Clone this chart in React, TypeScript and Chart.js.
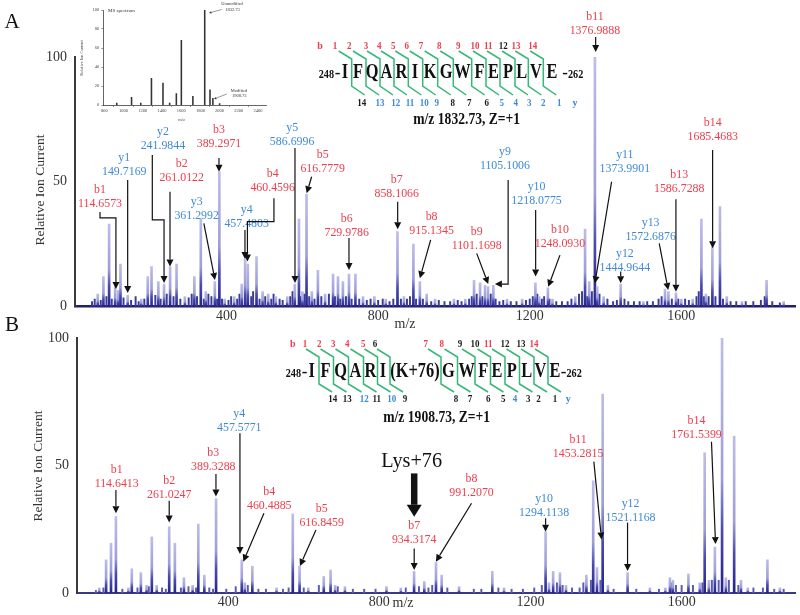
import React, { useEffect, useRef } from "react";
import { Chart, registerables } from "chart.js";

Chart.register(...registerables);

const SERIF = "'Liberation Serif', 'Times New Roman', serif";
Chart.defaults.font.family = SERIF;

// ---------------- data ----------------
const mzTicks = [400, 800, 1200, 1600];
const intensityTicks = [0, 50, 100];

// Panel A: MS/MS of m/z 1832.73 (unmodified) [m/z, relative intensity]
const peaksA: [number, number][] = [
  [60, 5], [75, 12], [90, 33], [106, 8], [114, 6.5], [120, 17], [139, 4.5], [175, 3], [192, 12], [202, 16],
  [220, 10], [235, 9], [251, 16], [268, 17], [290, 4], [315, 12], [332, 35], [345, 6], [369, 10], [381, 54],
  [395, 3], [420, 4], [440, 9], [449, 19], [456, 17], [479, 20], [495, 6], [510, 5], [530, 4], [560, 4],
  [580, 9], [591, 35], [600, 6], [611, 45], [625, 6], [641, 14.5], [660, 5], [681, 13], [694, 12], [707, 10],
  [723, 13], [740, 13], [760, 4], [790, 4], [820, 3], [851, 30], [868, 4], [893, 25], [910, 10], [928, 5],
  [950, 3], [1000, 3], [1030, 3], [1053, 10.5], [1069, 9.5], [1082, 8.5], [1090, 8], [1104, 8.5], [1140, 3],
  [1180, 3], [1215, 9.5], [1225, 4], [1248, 7.5], [1260, 3], [1320, 4], [1346, 31], [1357, 10], [1372, 100],
  [1378, 8], [1395, 4], [1440, 9], [1500, 2], [1557, 7], [1566, 6], [1586, 5.5], [1600, 3], [1630, 3],
  [1653, 35], [1665, 5], [1682, 24], [1702, 40], [1720, 4], [1760, 2], [1825, 10.5], [1870, 2],
];
const baselineA: [number, number][] = [
  [45, 2], [52, 3], [68, 2.5], [83, 4], [97, 3], [128, 3.5], [148, 2.5], [160, 4], [168, 2], [183, 3],
  [212, 4.5], [226, 3], [242, 5], [260, 4], [278, 3], [300, 3.5], [308, 5], [322, 4], [340, 3], [352, 5],
  [360, 4], [375, 3], [388, 3], [405, 2.5], [412, 4], [428, 3], [434, 5], [465, 4], [470, 6], [487, 3],
  [502, 4], [518, 3], [524, 5], [540, 3], [548, 2.5], [568, 4], [574, 6], [596, 4], [605, 5], [618, 4],
  [632, 3], [650, 4], [670, 5], [686, 4], [700, 3], [715, 4], [730, 3], [750, 3], [770, 2.5], [780, 3],
  [800, 2.5], [812, 3], [830, 2], [840, 3], [860, 3], [876, 3], [884, 4], [900, 3], [918, 3], [940, 2],
  [960, 2.5], [975, 2], [990, 2], [1010, 2.5], [1020, 2], [1040, 3], [1047, 4], [1060, 5], [1075, 4],
  [1097, 5], [1110, 3], [1120, 2], [1130, 2.5], [1150, 2], [1165, 2], [1190, 2.5], [1200, 3], [1208, 4],
  [1220, 5], [1232, 3], [1238, 4], [1252, 3], [1270, 2], [1285, 2], [1300, 2], [1310, 3], [1330, 5],
  [1338, 6], [1352, 4], [1364, 6], [1384, 5], [1405, 3], [1420, 2], [1430, 2.5], [1450, 3], [1460, 2],
  [1475, 2], [1490, 2], [1510, 2], [1525, 2], [1540, 3], [1548, 4], [1575, 3], [1592, 3], [1610, 3],
  [1620, 2.5], [1640, 4], [1646, 6], [1660, 4], [1672, 4], [1690, 4], [1710, 3], [1730, 2], [1745, 2],
  [1770, 2], [1790, 2], [1810, 2.5], [1820, 4], [1840, 2], [1860, 1.5],
];

// Panel B: MS/MS of m/z 1908.73 (Lys+76 modified)
const peaksB: [number, number][] = [
  [59, 2], [77, 13], [90, 19.5], [103, 30], [136, 2], [145, 9.5], [169, 8], [184, 3], [198, 22], [211, 3],
  [244, 26], [259, 19.5], [283, 6], [306, 3], [321, 27], [337, 7], [368, 37], [436, 13], [444, 4], [464, 10.5],
  [528, 2], [571, 31], [589, 10.5], [612, 2], [653, 6.5], [671, 9], [683, 3], [709, 2.5], [819, 2.5], [857, 2],
  [892, 8.5], [919, 4.5], [950, 12], [965, 7], [1011, 2.5], [1099, 8.5], [1130, 2], [1240, 24], [1249, 4],
  [1260, 8.5], [1278, 8], [1294, 3], [1348, 7], [1366, 44], [1376, 10], [1391, 78], [1405, 3], [1457, 8],
  [1516, 2], [1557, 2], [1569, 6], [1577, 5], [1618, 7.5], [1648, 4], [1661, 55], [1672, 5], [1688, 18],
  [1707, 100], [1717, 6], [1739, 61.5], [1757, 5], [1775, 2], [1827, 13], [1860, 2],
];
const baselineB: [number, number][] = [
  [50, 1], [70, 2], [120, 1.5], [160, 2], [190, 2.5], [225, 2], [235, 1.5], [275, 2], [295, 2.5], [315, 2],
  [350, 2], [360, 1.5], [395, 1.5], [420, 2.5], [452, 3], [480, 1.5], [500, 1.5], [545, 1.5], [560, 2],
  [600, 2], [640, 3], [690, 2.5], [730, 1.5], [760, 1.5], [790, 1.5], [870, 2], [905, 2.5], [930, 2],
  [940, 3], [980, 2], [1050, 1.5], [1070, 1.5], [1115, 2], [1150, 1.5], [1180, 1.5], [1210, 2], [1230, 3],
  [1270, 4], [1285, 3], [1310, 2], [1330, 2], [1340, 4], [1360, 5], [1385, 5], [1420, 1.5], [1480, 1.5],
  [1540, 1.5], [1575, 4], [1585, 3], [1600, 3], [1630, 3], [1655, 4], [1680, 5], [1698, 5], [1725, 5],
  [1750, 3], [1790, 2], [1815, 2], [1845, 1.5], [1870, 1.5],
];

// Inset: full MS spectrum
const insetMz = [930, 1084, 1180, 1291, 1411, 1480, 1550, 1602, 1722, 1845, 1900, 1930, 2000];
const insetIntensity = [2, 8, 2, 28, 23, 2, 12, 68, 9, 100, 16, 7, 1.5];
const insetMzTicks = [800, 1000, 1200, 1400, 1600, 1800, 2000, 2200, 2400];
const insetIntTicks = [0, 20, 40, 60, 80, 100];

// Fragment-ion labels: text, label anchor and arrow path in data units (m/z, %)
type Frag = { ion: string; mz: string; at: [number, number]; path: [number, number][] };
const fragmentsA: Frag[] = [
  { ion: "b1", mz: "114.6573", at: [66, 46.7], path: [[66, 37.9], [66, 35.5], [108, 35.5], [108, 7]] },
  { ion: "y1", mz: "149.7169", at: [130, 59.5], path: [[139, 50.7], [139, 5.4]] },
  { ion: "y2", mz: "241.9844", at: [232, 69.9], path: [[204, 60.7], [204, 34.7], [235, 34.7], [235, 9.4]] },
  { ion: "b3", mz: "389.2971", at: [380, 70.7], path: [[380, 59.5], [380, 54]] },
  { ion: "b2", mz: "261.0122", at: [281.5, 57.4], path: [[250.7, 46], [250.7, 16]] },
  { ion: "y3", mz: "361.2992", at: [321, 42], path: [[340, 33.3], [369.4, 10.6]] },
  { ion: "y4", mz: "457.4803", at: [453, 38.7], path: [[448.5, 30.7], [448.5, 19]] },
  { ion: "b4", mz: "460.4596", at: [521.6, 53.4], path: [[525, 43.4], [525, 34], [455, 34], [455, 18]] },
  { ion: "y5", mz: "586.6996", at: [573, 71.5], path: [[580.5, 63.5], [580.5, 9.4]] },
  { ion: "b5", mz: "616.7779", at: [653.6, 60.7], path: [[624.5, 52], [611.3, 45.4]] },
  { ion: "b6", mz: "729.9786", at: [717, 35], path: [[723, 27.5], [723, 14.6]] },
  { ion: "b7", mz: "858.1066", at: [849, 50.7], path: [[851.5, 42], [851.5, 31]] },
  { ion: "b8", mz: "915.1345", at: [941, 35.8], path: [[938.5, 26.7], [910, 11.3]] },
  { ion: "b9", mz: "1101.1698", at: [1060, 30], path: [[1060, 21.3], [1090.5, 9]] },
  { ion: "y9", mz: "1105.1006", at: [1134.6, 62], path: [[1143, 50.7], [1143, 9], [1108, 9]] },
  { ion: "y10", mz: "1218.0775", at: [1218, 48], path: [[1215.6, 38.7], [1215.6, 12]] },
  { ion: "b10", mz: "1248.0930", at: [1279.7, 30.7], path: [[1279.7, 20.6], [1248.8, 7.9]] },
  { ion: "b11", mz: "1376.9888", at: [1372, 116], path: [[1374, 108], [1374, 102]] },
  { ion: "y11", mz: "1373.9901", at: [1451, 60.7], path: [[1416, 50], [1372, 9.3]] },
  { ion: "y12", mz: "1444.9644", at: [1451, 21.3], path: [[1440, 14], [1440, 9.3]] },
  { ion: "y13", mz: "1572.6876", at: [1519, 33.6], path: [[1541.7, 25.3], [1565.4, 6.6]] },
  { ion: "b13", mz: "1586.7288", at: [1594.5, 52.7], path: [[1585.8, 43], [1585.8, 5.9]] },
  { ion: "b14", mz: "1685.4683", at: [1683, 73.7], path: [[1682.6, 62.7], [1682.6, 23.3]] },
];
const fragmentsB: Frag[] = [
  { ion: "b1", mz: "114.6413", at: [105, 48.5], path: [[103, 40.4], [103, 31.3]] },
  { ion: "b2", mz: "261.0247", at: [244, 44], path: [[244, 36.2], [244, 27.6]] },
  { ion: "b3", mz: "389.3288", at: [360.6, 55], path: [[367.7, 46.7], [367.7, 37.8]] },
  { ion: "y4", mz: "457.5771", at: [429.4, 70.5], path: [[431.2, 62.6], [431.2, 15.3]] },
  { ion: "b4", mz: "460.4885", at: [508.7, 39.7], path: [[494.7, 31.3], [440, 12.3]] },
  { ion: "b5", mz: "616.8459", at: [647.4, 33.2], path: [[632.3, 24.7], [590, 10.6]] },
  { ion: "b7", mz: "934.3174", at: [892.3, 26.3], path: [[892.3, 17.5], [892.3, 9]] },
  { ion: "b8", mz: "991.2070", at: [1044, 44.7], path: [[1044, 35.2], [949.7, 12.3]] },
  { ion: "y10", mz: "1294.1138", at: [1236, 37.1], path: [[1240, 29.3], [1240, 24]] },
  { ion: "b11", mz: "1453.2815", at: [1326, 60], path: [[1367.7, 51.5], [1388, 21]] },
  { ion: "y12", mz: "1521.1168", at: [1464.8, 35.2], path: [[1456.9, 27.6], [1456.9, 8.6]] },
  { ion: "b14", mz: "1761.5399", at: [1639.4, 67.6], path: [[1679, 59.3], [1689.7, 19.2]] },
];

// ---------------- styles / layout ----------------
const RED = "#ee3d4c";
const BLUE = "#3f8ad6";
const DARK = "#1a1a1a";
const GREEN = "#36b877";

type SeqLayout = {
  cy: number; bY: number; yY: number; br: [number, number, number, number];
  pre: { numRight: number; dash: number }; suf: { dash: number; numLeft: number };
  residues: string[]; resX: number[];
  bLabelX: number; bX: number[]; bColors: string[];
  yLabelX: number; yX: number[]; yColors: string[];
  cuts: number[]; title: string; titleX: number; titleY: number;
};
const R = RED, B = BLUE, K = DARK;
const seqA: SeqLayout = {
  cy: 73, bY: 46.7, yY: 103.3, br: [51, 59, 86, 95],
  pre: { numRight: 334, dash: 337.5 }, suf: { dash: 565, numLeft: 568 },
  residues: ["I", "F", "Q", "A", "R", "I", "K", "G", "W", "F", "E", "P", "L", "V", "E"],
  resX: [345, 358, 372, 386.5, 401.5, 415, 430, 446, 462.5, 479.5, 493.5, 508, 521.7, 536, 552],
  bLabelX: 320, bX: [335, 349.3, 366, 379.3, 393.3, 406.7, 421, 439.3, 458.3, 475, 488.3, 503.3, 516, 532.7],
  bColors: [R, R, R, R, R, R, R, R, R, R, R, K, R, R],
  yLabelX: 575, yX: [361.7, 380, 395.7, 410, 424.3, 436.7, 452.7, 469.3, 486.7, 501.7, 515.7, 529.3, 543.3, 559.3],
  yColors: [K, B, B, B, B, B, K, K, K, B, B, B, B, B],
  cuts: [351.7, 366, 380, 394, 408.3, 422.7, 437.7, 453.3, 471.7, 486, 500, 515, 528.3, 543.3],
  title: "m/z 1832.73, Z=+1", titleX: 466.7, titleY: 120,
};
const seqB: SeqLayout = {
  cy: 371.7, bY: 344.3, yY: 399.3, br: [349, 357, 384, 392],
  pre: { numRight: 301, dash: 304.5 }, suf: { dash: 563.5, numLeft: 566.5 },
  residues: ["I", "F", "Q", "A", "R", "I", "(K+76)", "G", "W", "F", "E", "P", "L", "V", "E"],
  resX: [311.7, 325.5, 340.5, 355.5, 370.5, 383, 415, 448.3, 466.7, 483.3, 497, 511.7, 526.7, 540.5, 555],
  bLabelX: 292.7, bX: [305, 319.3, 333.3, 347.3, 363.3, 375, 425.7, 441.7, 460, 475, 488.3, 505, 521, 534],
  bColors: [R, R, R, R, R, K, R, R, K, K, R, K, K, R],
  yLabelX: 568.3, yX: [332.7, 347.3, 364.3, 376.7, 391.7, 405, 456, 470, 488.3, 503.3, 515, 528.3, 538.5, 555],
  yColors: [K, K, B, K, B, K, K, K, K, K, B, K, K, K],
  cuts: [319, 333.5, 348.5, 363.5, 377.5, 390, 441, 457.5, 475, 490.5, 505, 519.5, 534, 548],
  title: "m/z 1908.73, Z=+1", titleX: 436.7, titleY: 418.3,
};

// ---------------- drawing helpers ----------------
function txt(ctx: CanvasRenderingContext2D, s: string, x: number, y: number, font: string, color: string,
  align: CanvasTextAlign = "center", sx = 1, rot = 0) {
  ctx.save();
  ctx.font = font; ctx.fillStyle = color; ctx.textAlign = align; ctx.textBaseline = "middle";
  ctx.translate(x, y); if (rot) ctx.rotate(rot); ctx.scale(sx, 1);
  ctx.fillText(s, 0, 0);
  ctx.restore();
}

function arrow(ctx: CanvasRenderingContext2D, pts: [number, number][], lw = 1.2, head = 7, hw = 3.5, color = "#111") {
  const n = pts.length;
  const [tx, ty] = pts[n - 1];
  const [px, py] = pts[n - 2];
  const a = Math.atan2(ty - py, tx - px);
  const bx = tx - head * Math.cos(a), by = ty - head * Math.sin(a);
  ctx.save();
  ctx.strokeStyle = color; ctx.fillStyle = color; ctx.lineWidth = lw; ctx.lineJoin = "miter";
  ctx.beginPath();
  ctx.moveTo(pts[0][0], pts[0][1]);
  for (let i = 1; i < n - 1; i++) ctx.lineTo(pts[i][0], pts[i][1]);
  ctx.lineTo(bx, by);
  ctx.stroke();
  ctx.beginPath();
  ctx.moveTo(tx, ty);
  ctx.lineTo(bx + hw * Math.sin(a), by - hw * Math.cos(a));
  ctx.lineTo(bx - hw * Math.sin(a), by + hw * Math.cos(a));
  ctx.closePath();
  ctx.fill();
  ctx.restore();
}

function drawSequence(ctx: CanvasRenderingContext2D, s: SeqLayout) {
  // brackets first so the residues sit on top
  ctx.save();
  ctx.strokeStyle = GREEN; ctx.lineWidth = 1.5;
  const [t, v0, v1, b] = s.br;
  s.cuts.forEach((x) => {
    ctx.beginPath();
    ctx.moveTo(x - 13, t); ctx.lineTo(x, v0); ctx.lineTo(x, v1); ctx.lineTo(x + 13, b);
    ctx.stroke();
  });
  ctx.restore();
  const main = `bold 21px ${SERIF}`;
  s.residues.forEach((r, i) => txt(ctx, r, s.resX[i], s.cy, main, "#111", "center", 0.78));
  txt(ctx, "248", s.pre.numRight, s.cy + 2, `bold 12px ${SERIF}`, "#111", "right", 0.85);
  txt(ctx, "-", s.pre.dash, s.cy + 1, `bold 17px ${SERIF}`, "#111", "center");
  txt(ctx, "-", s.suf.dash, s.cy + 1, `bold 17px ${SERIF}`, "#111", "center");
  txt(ctx, "262", s.suf.numLeft, s.cy + 2, `bold 12px ${SERIF}`, "#111", "left", 0.85);
  const nf = `bold 10px ${SERIF}`;
  txt(ctx, "b", s.bLabelX, s.bY, nf, RED, "center");
  s.bX.forEach((x, i) => txt(ctx, String(i + 1), x, s.bY, nf, s.bColors[i], "center", 0.9));
  s.yX.forEach((x, i) => txt(ctx, String(14 - i), x, s.yY, nf, s.yColors[i], "center", 0.9));
  txt(ctx, "y", s.yLabelX, s.yY, nf, BLUE, "center");
  txt(ctx, s.title, s.titleX, s.titleY, `bold 16px ${SERIF}`, "#111", "center", 0.85);
}

function drawFragments(chart: any, frags: Frag[]) {
  const ctx: CanvasRenderingContext2D = chart.ctx;
  const xs = chart.scales.x, ys = chart.scales.y;
  const P = (p: [number, number]): [number, number] => [xs.getPixelForValue(p[0]), ys.getPixelForValue(p[1])];
  const f = `12.5px ${SERIF}`;
  frags.forEach((fr) => {
    const col = fr.ion.startsWith("b") ? RED : BLUE;
    const [x, y] = P(fr.at);
    txt(ctx, fr.ion, x, y, f, col, "center", 0.95);
    txt(ctx, fr.mz, x, y + 14, f, col, "center", 0.95);
    arrow(ctx, fr.path.map(P), 1.2, 7, 3.5, "#111");
  });
}

function peakFill(c: any) {
  const chart = c.chart;
  if (!chart.chartArea || c.type !== "data" || !c.parsed) return "#a4a4da";
  const ys = chart.scales.y;
  const top = ys.getPixelForValue(c.parsed.y);
  const base = ys.getPixelForValue(0);
  if (!isFinite(top) || !isFinite(base) || base - top < 2) return "#3a3a98";
  const g = chart.ctx.createLinearGradient(0, base, 0, top);
  g.addColorStop(0, "#22228a");
  g.addColorStop(0.25, "#4a4aae");
  g.addColorStop(0.45, "#9e9ed8");
  g.addColorStop(1, "#bdbde9");
  return g;
}

type MainCfg = {
  peaks: [number, number][]; baseline: [number, number][];
  left: number; top: number; bottom: number; right: number;
  baseColor: string; baseWidth: number; noiseColor: string;
  draw: (chart: any) => void;
};

function makeMain(canvas: HTMLCanvasElement, cfg: MainCfg) {
  const tickFont = { family: SERIF, size: 14 };
  return new Chart(canvas, {
    type: "bar",
    data: {
      datasets: [
        { data: cfg.peaks.map(([x, y]) => ({ x, y })), backgroundColor: peakFill, barThickness: 2, grouped: false, order: 1 } as any,
        { data: cfg.baseline.map(([x, y]) => ({ x, y })), backgroundColor: cfg.noiseColor, barThickness: 1.3, grouped: false, order: 2 } as any,
      ],
    },
    options: {
      responsive: false,
      animation: false,
      events: [],
      layout: { padding: { left: 0, right: 800 - cfg.right, top: cfg.top, bottom: 615 - cfg.bottom - 20 } },
      plugins: { legend: { display: false }, tooltip: { enabled: false } },
      scales: {
        x: {
          type: "linear", min: 0, max: 1900, offset: false,
          grid: { display: false, drawTicks: false },
          border: { display: true, color: cfg.baseColor, width: cfg.baseWidth },
          ticks: { font: tickFont, color: "#333", padding: 1, maxRotation: 0, callback: (v: any) => String(v) },
          afterBuildTicks: (s: any) => { s.ticks = mzTicks.map((v) => ({ value: v })); },
          afterFit: (s: any) => { s.height = 20; },
        },
        y: {
          type: "linear", min: 0, max: 100,
          grid: { display: false, drawTicks: false },
          border: { display: true, color: "#3a3a3a", width: 2 },
          ticks: { font: tickFont, color: "#333", padding: 8, callback: (v: any) => String(v) },
          afterBuildTicks: (s: any) => { s.ticks = intensityTicks.map((v) => ({ value: v })); },
          afterFit: (s: any) => { s.width = cfg.left; },
        },
      },
    } as any,
    plugins: [{ id: "deco", afterDraw: (chart: any) => cfg.draw(chart) }],
  });
}

function makeInset(canvas: HTMLCanvasElement) {
  const f = { family: SERIF, size: 4.5 };
  return new Chart(canvas, {
    type: "bar",
    data: {
      datasets: [{
        data: insetMz.map((x, i) => ({ x, y: insetIntensity[i] })),
        backgroundColor: "#333", barThickness: 0.9, grouped: false,
      } as any],
    },
    options: {
      responsive: false, animation: false, events: [],
      layout: { padding: { left: 0, right: 533.3, top: 10, bottom: 498 } },
      plugins: { legend: { display: false }, tooltip: { enabled: false } },
      scales: {
        x: {
          type: "linear", min: 790, max: 2490, offset: false,
          grid: { drawOnChartArea: false, tickLength: 2, color: "#555", lineWidth: 0.6 },
          border: { display: true, color: "#222", width: 0.7 },
          ticks: { font: f, color: "#444", padding: 1.5, maxRotation: 0, autoSkip: false, callback: (v: any) => String(v) },
          afterBuildTicks: (s: any) => { s.ticks = insetMzTicks.map((v) => ({ value: v })); },
          afterFit: (s: any) => { s.height = 12; },
        },
        y: {
          type: "linear", min: 0, max: 100,
          grid: { drawOnChartArea: false, tickLength: 2, color: "#555", lineWidth: 0.6 },
          border: { display: true, color: "#222", width: 0.7 },
          ticks: { font: f, color: "#444", padding: 2, autoSkip: false, callback: (v: any) => String(v) },
          afterBuildTicks: (s: any) => { s.ticks = insetIntTicks.map((v) => ({ value: v })); },
          afterFit: (s: any) => { s.width = 103.3; },
        },
      },
    } as any,
    plugins: [{
      id: "insetDeco",
      afterDraw: (chart: any) => {
        const ctx: CanvasRenderingContext2D = chart.ctx;
        const sf = `4.5px ${SERIF}`;
        txt(ctx, "MS spectrum", 108, 10.7, `5px ${SERIF}`, "#333", "left");
        txt(ctx, "Unmodified", 232, 4, sf, "#333", "center");
        txt(ctx, "1832.73", 232.5, 9.5, sf, "#333", "center");
        txt(ctx, "Modified", 239, 90.7, sf, "#333", "center");
        txt(ctx, "1908.73", 239.3, 96.2, sf, "#333", "center");
        arrow(ctx, [[221.7, 9.5], [209, 13]], 0.5, 2.5, 1.2, "#333");
        arrow(ctx, [[226.7, 94], [214, 99]], 0.5, 2.5, 1.2, "#333");
        txt(ctx, "m/z", 181.7, 120, sf, "#444", "center");
        txt(ctx, "Relative Ion Current", 82, 58, `4.3px ${SERIF}`, "#444", "center", 1, -Math.PI / 2);
      },
    }],
  });
}

export default function App() {
  const refA = useRef<HTMLCanvasElement>(null);
  const refB = useRef<HTMLCanvasElement>(null);
  const refI = useRef<HTMLCanvasElement>(null);

  useEffect(() => {
    const charts: Chart[] = [];
    charts.push(makeMain(refA.current!, {
      peaks: peaksA, baseline: baselineA, left: 75, top: 57, bottom: 306.5, right: 795,
      baseColor: "#20206e", baseWidth: 2.5, noiseColor: "#3a3a9c",
      draw: (chart) => {
        const ctx = chart.ctx;
        txt(ctx, "A", 12, 22, `21px ${SERIF}`, "#111", "center");
        txt(ctx, "Relative Ion Current", 40, 190, `13.5px ${SERIF}`, "#333", "center", 1, -Math.PI / 2);
        txt(ctx, "m/z", 405, 324, `14px ${SERIF}`, "#333", "center");
        drawSequence(ctx, seqA);
        drawFragments(chart, fragmentsA);
      },
    }));
    charts.push(makeMain(refB.current!, {
      peaks: peaksB, baseline: baselineB, left: 77, top: 338, bottom: 593, right: 795,
      baseColor: "#3a3a80", baseWidth: 2, noiseColor: "#5a5ab0",
      draw: (chart) => {
        const ctx = chart.ctx;
        const xs = chart.scales.x, ys = chart.scales.y;
        txt(ctx, "B", 12, 325, `21px ${SERIF}`, "#111", "center");
        txt(ctx, "Relative Ion Current", 38, 466, `13.5px ${SERIF}`, "#333", "center", 1, -Math.PI / 2);
        txt(ctx, "m/z", 403, 603, `14px ${SERIF}`, "#333", "center");
        drawSequence(ctx, seqB);
        drawFragments(chart, fragmentsB);
        // Lys+76 callout
        const lx = xs.getPixelForValue(885.4), ly = ys.getPixelForValue(51.5);
        txt(ctx, "Lys+76", lx, ly, `22px ${SERIF}`, "#111", "center", 0.92);
        const ax = xs.getPixelForValue(892.3);
        arrow(ctx, [[ax, ys.getPixelForValue(46.9)], [ax, ys.getPixelForValue(29.9)]], 6.5, 12, 7.5, "#111");
      },
    }));
    charts.push(makeInset(refI.current!));
    return () => charts.forEach((c) => c.destroy());
  }, []);

  const cs: React.CSSProperties = { position: "absolute", left: 0, top: 0, width: 800, height: 615 };
  return (
    <div style={{ position: "fixed", left: 0, top: 0, width: 800, height: 615, background: "#fff", overflow: "hidden" }}>
      <canvas ref={refA} width={800} height={615} style={cs} />
      <canvas ref={refB} width={800} height={615} style={cs} />
      <canvas ref={refI} width={800} height={615} style={cs} />
    </div>
  );
}
